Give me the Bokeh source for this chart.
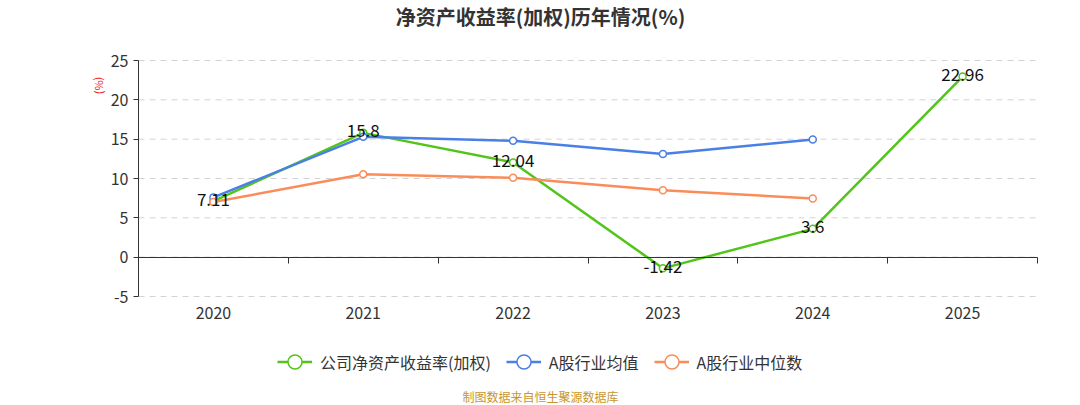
from bokeh.plotting import figure
from bokeh.models import (Label, Legend, LegendItem, LinearAxis, FixedTicker,
                          ColumnDataSource, Range1d)
from bokeh.core.properties import value
from bokeh.embed import file_html
from bokeh.resources import INLINE

years = ["2020", "2021", "2022", "2023", "2024", "2025"]
company = [7.11, 15.8, 12.04, -1.42, 3.6, 22.96]
ind_avg = [7.6, 15.3, 14.8, 13.1, 14.95]
ind_median = [7.0, 10.55, 10.1, 8.5, 7.45]
y_ticks = [-5, 0, 5, 10, 15, 20, 25]

FONT = "Noto Sans CJK SC"
GREEN = "#52c41a"
BLUE = "#4a7fe6"
ORANGE = "#fa8c5a"

W, H = 1080, 405
# plot area in canvas pixels
L, R, T, B = 138, 1037, 60, 296
idx = list(range(len(years)))
x0, x1 = -0.5, len(years) - 0.5
y0, y1 = y_ticks[0], y_ticks[-1]
xs = (R - L) / (x1 - x0)
ys = (B - T) / (y1 - y0)

def px_x(px):
    return x0 + (px - L) / xs

def px_y(py):
    return y1 - (py - T) / ys

# the frame covers the whole canvas, so nothing is clipped
p = figure(width=W, height=H, output_backend="svg", toolbar_location=None,
           x_range=Range1d(px_x(0), px_x(W)), y_range=Range1d(px_y(H), px_y(0)),
           min_border=0, x_axis_type=None, y_axis_type=None)
p.outline_line_color = None
p.xgrid.visible = False
p.ygrid.visible = False

# dashed grid lines across the plot area
p.segment(x0=[x0] * len(y_ticks), x1=[x1] * len(y_ticks), y0=y_ticks, y1=y_ticks,
          line_color="#d3d3d3", line_width=1, line_dash="6 5")

# y axis
yax = LinearAxis(fixed_location=x0, bounds=(y0, y1), ticker=FixedTicker(ticks=y_ticks),
                 major_label_overrides={t: str(t) for t in y_ticks})
yax.axis_line_color = "#333333"
yax.major_tick_line_color = "#333333"
yax.major_tick_in = 0
yax.major_tick_out = 5
yax.minor_tick_line_color = None
yax.major_label_text_font = FONT
yax.major_label_text_font_size = "16px"
yax.major_label_text_color = "#333333"
yax.major_label_standoff = 5
p.add_layout(yax, "left")

# zero line with ticks on category boundaries
zax = LinearAxis(fixed_location=0, bounds=(x0, x1),
                 ticker=FixedTicker(ticks=[i + 0.5 for i in idx]))
zax.axis_line_color = "#333333"
zax.major_tick_line_color = "#333333"
zax.major_tick_in = 0
zax.major_tick_out = 6
zax.minor_tick_line_color = None
zax.major_label_text_alpha = 0
zax.major_label_text_font_size = "1px"
p.add_layout(zax, "below")

# year labels along the bottom of the plot area
xlab = LinearAxis(fixed_location=y0, ticker=FixedTicker(ticks=idx),
                  major_label_overrides={i: y for i, y in enumerate(years)})
xlab.axis_line_color = None
xlab.major_tick_line_color = None
xlab.major_tick_out = 0
xlab.major_tick_in = 0
xlab.minor_tick_line_color = None
xlab.major_label_text_font = FONT
xlab.major_label_text_font_size = "16px"
xlab.major_label_text_color = "#333333"
xlab.major_label_standoff = 10
p.add_layout(xlab, "below")

# series
series = [
    ("公司净资产收益率(加权)", company, GREEN),
    ("A股行业均值", ind_avg, BLUE),
    ("A股行业中位数", ind_median, ORANGE),
]
items = []
for name, vals, col in series:
    xi = idx[:len(vals)]
    ln = p.line(xi, vals, line_color=col, line_width=2.5)
    sc = p.scatter(xi, vals, size=7, fill_color="white", line_color=col, line_width=1.5)
    items.append(LegendItem(label=name, renderers=[ln, sc]))

src = ColumnDataSource(dict(x=idx, y=company, t=[str(v) for v in company]))
p.text("x", "y", text="t", source=src, text_font=value(FONT), text_font_size="17px",
       text_color="#111111", text_align="center", text_baseline="middle", y_offset=-2)

# legend marker size follows the glyph box (0.4 of its smaller side)
leg = Legend(items=items, orientation="horizontal", location=(277, 26),
             label_text_font=FONT, label_text_font_size="16px", label_text_color="#333333",
             glyph_width=35, glyph_height=35, label_height=35, label_standoff=8,
             spacing=15, padding=0, margin=0, border_line_color=None,
             background_fill_alpha=0)
p.add_layout(leg, "center")

p.add_layout(Label(x=px_x(540), y=px_y(16), text="净资产收益率(加权)历年情况(%)", text_font=FONT,
                   text_font_size="20px", text_font_style="bold", text_color="#333333",
                   text_align="center", text_baseline="middle"))
p.add_layout(Label(x=px_x(97), y=px_y(85), text="(%)", angle=1.5708, text_font=FONT,
                   text_font_size="11px", text_color="#ee2020",
                   text_align="center", text_baseline="middle"))
p.add_layout(Label(x=px_x(540), y=px_y(396), text="制图数据来自恒生聚源数据库", text_font=FONT,
                   text_font_size="12px", text_color="#c8962e",
                   text_align="center", text_baseline="middle"))

open("out.html", "w").write(file_html(p, INLINE))
